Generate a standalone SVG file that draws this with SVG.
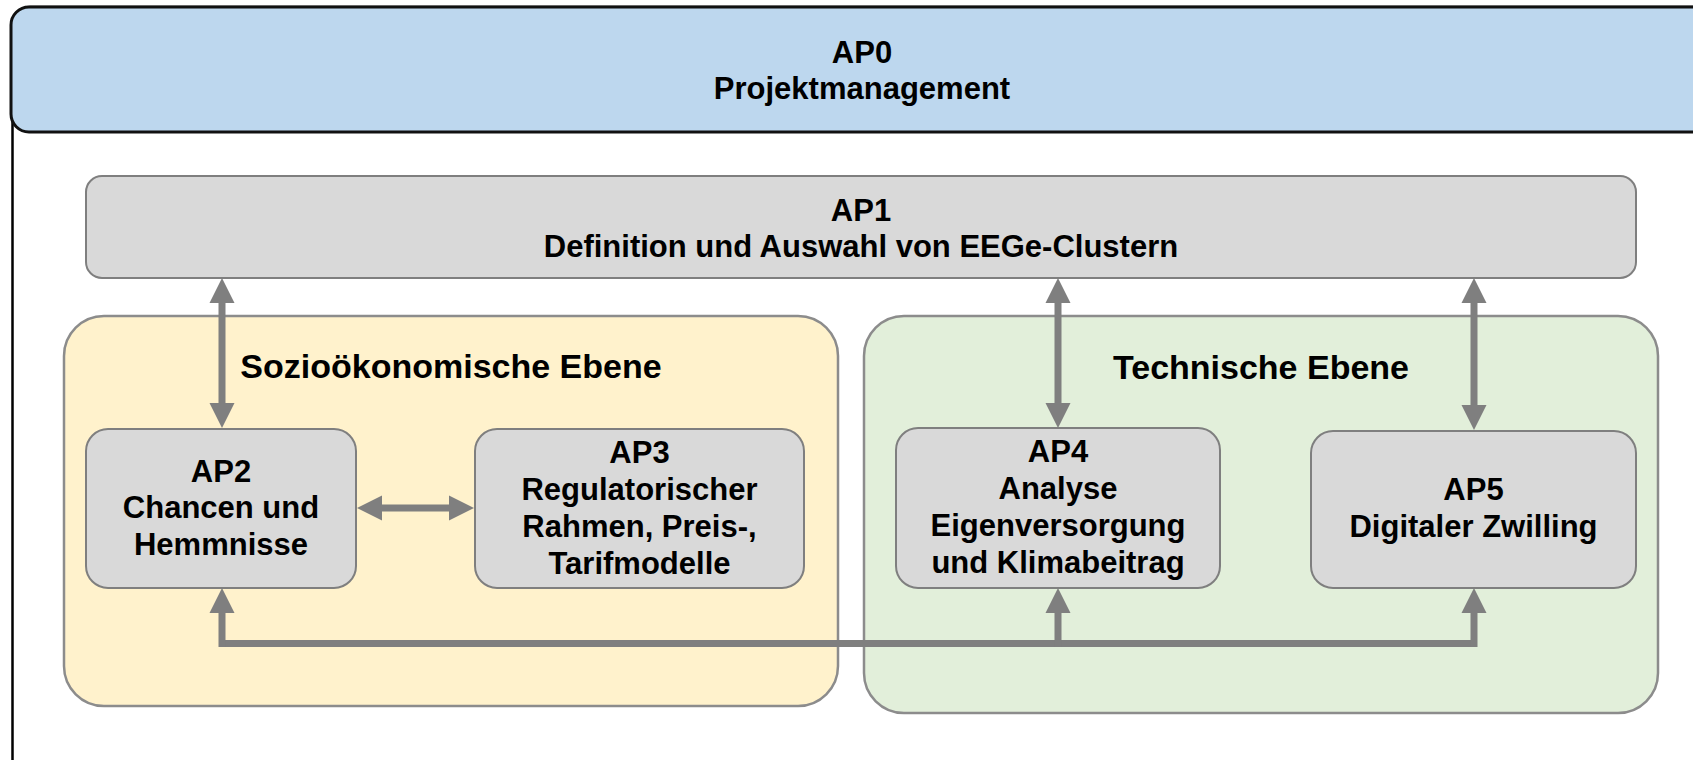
<svg xmlns="http://www.w3.org/2000/svg" width="1693" height="760" viewBox="0 0 1693 760">
  <defs>
    <style>
      .lbl { font-family: "Liberation Sans", Arial, sans-serif; font-weight: bold; fill: #000; text-anchor: middle; }
      .node { font-size: 31px; }
      .title { font-size: 34px; }
      .box { fill: #D9D9D9; stroke: #7F7F7F; stroke-width: 2; }
      .conn { fill: none; stroke: #7F7F7F; stroke-width: 7; }
    </style>
    <marker id="head" viewBox="0 -13 25 26" refX="0" refY="0" markerWidth="25" markerHeight="26" markerUnits="userSpaceOnUse" orient="auto-start-reverse">
      <path d="M0,-12.5 L25,0 L0,12.5 Z" fill="#7F7F7F"/>
    </marker>
  </defs>

  <rect x="0" y="0" width="1693" height="760" fill="#FFFFFF"/>

  <!-- outer frame and AP0 header band -->
  <g id="frame">
    <rect x="12.5" y="7" width="1720" height="800" rx="18" fill="#FFFFFF" stroke="#000" stroke-width="2.5"/>
  </g>
  <g id="ap0">
    <rect x="11" y="7" width="1720" height="125" rx="18" fill="#BDD7EE" stroke="#111" stroke-width="3"/>
    <text class="lbl node" x="862" y="63">AP0</text>
    <text class="lbl node" x="862" y="99">Projektmanagement</text>
  </g>

  <!-- AP1 bar -->
  <g id="ap1">
    <rect class="box" x="86" y="176" width="1550" height="102" rx="16"/>
    <text class="lbl node" x="861" y="221">AP1</text>
    <text class="lbl node" x="861" y="257">Definition und Auswahl von EEGe-Clustern</text>
  </g>

  <!-- level containers -->
  <g id="sozio">
    <rect x="64" y="316" width="774" height="390" rx="40" fill="#FFF2CC" stroke="#8C8C8C" stroke-width="2.5"/>
    <text class="lbl title" x="451" y="378">Sozioökonomische Ebene</text>
  </g>
  <g id="technik">
    <rect x="864" y="316" width="794" height="397" rx="40" fill="#E2EFDA" stroke="#8C8C8C" stroke-width="2.5"/>
    <text class="lbl title" x="1261" y="379">Technische Ebene</text>
  </g>

  <!-- work packages -->
  <g id="ap2">
    <rect class="box" x="86" y="429" width="270" height="159" rx="22"/>
    <text class="lbl node" x="221" y="482">AP2</text>
    <text class="lbl node" x="221" y="518">Chancen und</text>
    <text class="lbl node" x="221" y="555">Hemmnisse</text>
  </g>
  <g id="ap3">
    <rect class="box" x="475" y="429" width="329" height="159" rx="22"/>
    <text class="lbl node" x="639.5" y="463">AP3</text>
    <text class="lbl node" x="639.5" y="500">Regulatorischer</text>
    <text class="lbl node" x="639.5" y="537">Rahmen, Preis-,</text>
    <text class="lbl node" x="639.5" y="574">Tarifmodelle</text>
  </g>
  <g id="ap4">
    <rect class="box" x="896" y="428" width="324" height="160" rx="22"/>
    <text class="lbl node" x="1058" y="462">AP4</text>
    <text class="lbl node" x="1058" y="499">Analyse</text>
    <text class="lbl node" x="1058" y="536">Eigenversorgung</text>
    <text class="lbl node" x="1058" y="573">und Klimabeitrag</text>
  </g>
  <g id="ap5">
    <rect class="box" x="1311" y="431" width="325" height="157" rx="22"/>
    <text class="lbl node" x="1473.5" y="500">AP5</text>
    <text class="lbl node" x="1473.5" y="537">Digitaler Zwilling</text>
  </g>

  <!-- connectors -->
  <g id="connectors">
    <line class="conn" x1="222" y1="303" x2="222" y2="403" marker-start="url(#head)" marker-end="url(#head)"/>
    <line class="conn" x1="1058" y1="303" x2="1058" y2="403" marker-start="url(#head)" marker-end="url(#head)"/>
    <line class="conn" x1="1474" y1="303" x2="1474" y2="405" marker-start="url(#head)" marker-end="url(#head)"/>
    <line class="conn" x1="382" y1="508" x2="449" y2="508" marker-start="url(#head)" marker-end="url(#head)"/>
    <path class="conn" d="M222,643.5 H1474"/>
    <path class="conn" d="M222,647 V613" marker-end="url(#head)"/>
    <path class="conn" d="M1058,647 V613" marker-end="url(#head)"/>
    <path class="conn" d="M1474,647 V613" marker-end="url(#head)"/>
  </g>
</svg>
